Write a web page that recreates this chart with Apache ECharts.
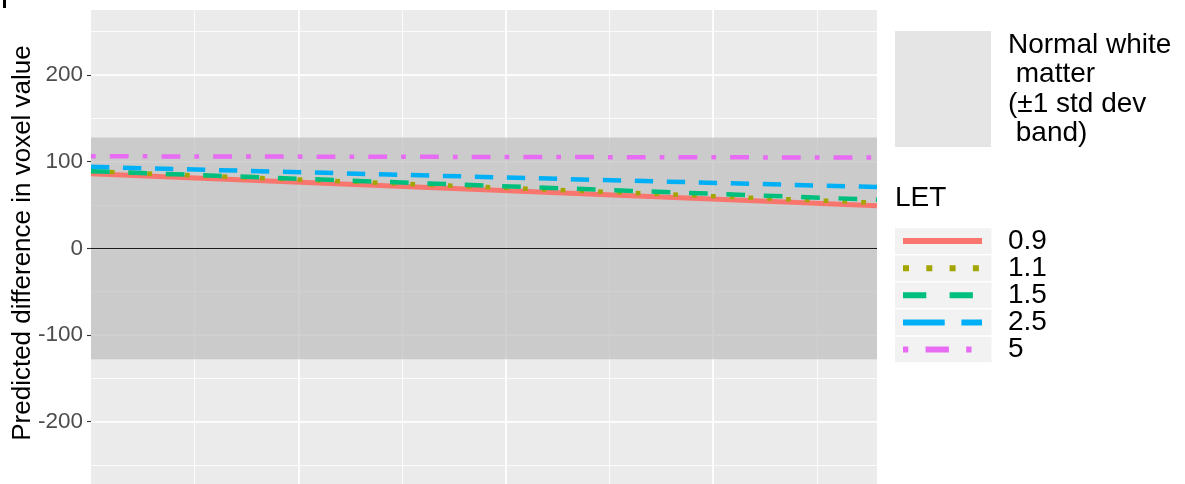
<!DOCTYPE html>
<html><head><meta charset="utf-8">
<script src="https://cdn.jsdelivr.net/npm/echarts@6/dist/echarts.min.js"></script>
<style>html,body{margin:0;padding:0;background:#fff}#chart{width:1185px;height:484px}</style>
</head><body><div id="chart"></div>
<script>
// ---- data ----
const xValues = [0, 75.8];
const letLevels = ['0.9', '1.1', '1.5', '2.5', '5'];
const let09 = [86, 49];
const let11 = [89, 52.5];
const let15 = [89, 56];
const let25 = [94, 70.7];
const let5 = [106.2, 104.7];
const bandLimits = [-128, 128];
const yTicks = [-200, -100, 0, 100, 200];
const bandLabel = ['Normal white', ' matter', '(\u00b11 std dev', ' band)'];
const legendTitle = 'LET';
const yTitle = 'Predicted difference in voxel value';

// ---- styles ----
const FONT = '"Liberation Sans", Arial, Helvetica, sans-serif';
const seriesValues = [let09, let11, let15, let25, let5];
const colors = ['#F8766D', '#A3A500', '#00BF7D', '#00B0F6', '#E76BF3'];
const plotDash = ['solid', [4.7, 14.1], [18.7, 18.7], [18.3, 13.7], [4.7, 14.1, 18.8, 14.1]];
const keyDash = ['solid', [6, 17.3], [23.3, 23.3], [41.7, 16.7], [5.3, 17.3, 23.3, 17.3]];
const plotWidths = [5, 4.5, 4.5, 4.5, 4.5];

const series = seriesValues.map((vals, i) => {
  const s = {
    name: letLevels[i],
    type: 'line',
    data: xValues.map((x, j) => [x, vals[j]]),
    symbol: 'none',
    showSymbol: false,
    silent: true,
    lineStyle: { color: colors[i], width: plotWidths[i], type: plotDash[i], cap: 'butt' }
  };
  if (i === 0) {
    s.markArea = {
      silent: true,
      itemStyle: { color: 'rgba(190,190,190,0.7)' },
      data: [[{ yAxis: bandLimits[0] }, { yAxis: bandLimits[1] }]]
    };
    s.markLine = {
      silent: true, symbol: 'none', label: { show: false },
      lineStyle: { color: '#1a1a1a', width: 1.1, type: 'solid' },
      data: [{ yAxis: 0 }]
    };
  }
  return s;
});

// ---- legend graphics ----
const graphics = [];
graphics.push({ type: 'rect', z: -10, silent: true, shape: { x: 91, y: 10, width: 786, height: 474 }, style: { fill: '#ebebeb' } });
graphics.push({ type: 'rect', z: 100, silent: true, shape: { x: 86, y: -20, width: 800, height: 30 }, style: { fill: '#ffffff' } });
graphics.push({ type: 'rect', z: 101, silent: true, shape: { x: 3, y: 0, width: 3, height: 8 }, style: { fill: '#000' } });
graphics.push({ type: 'text', silent: true, x: 23, y: 243, rotation: Math.PI / 2,
  style: { text: yTitle, font: '26px ' + FONT, fill: '#000', align: 'center', verticalAlign: 'middle' } });
graphics.push({ type: 'rect', silent: true, shape: { x: 895, y: 31, width: 96, height: 116 }, style: { fill: '#e5e5e5' } });
graphics.push({ type: 'text', silent: true, x: 1008, y: 89.5,
  style: { text: bandLabel.join('\n'), font: '28px ' + FONT, lineHeight: 29.5, fill: '#000', align: 'left', verticalAlign: 'middle' } });
graphics.push({ type: 'text', silent: true, x: 895, y: 198,
  style: { text: legendTitle, font: '28px ' + FONT, fill: '#000', align: 'left', verticalAlign: 'middle' } });
letLevels.forEach((lv, i) => {
  const top = 228.3 + 27.1 * i;
  const cy = top + 12.8;
  graphics.push({ type: 'rect', silent: true, shape: { x: 895, y: top, width: 96.5, height: 25.6 }, style: { fill: '#f2f2f2' } });
  graphics.push({ type: 'line', silent: true, shape: { x1: 903, y1: cy, x2: 982, y2: cy },
    style: { stroke: colors[i], lineWidth: 6, lineDash: keyDash[i] === 'solid' ? null : keyDash[i], lineCap: 'butt' } });
  graphics.push({ type: 'text', silent: true, x: 1008, y: cy,
    style: { text: lv, font: '28px ' + FONT, fill: '#000', align: 'left', verticalAlign: 'middle' } });
});

const chart = echarts.init(document.getElementById('chart'), null, { renderer: 'canvas' });
chart.setOption({
  animation: false,
  backgroundColor: '#ffffff',
  textStyle: { fontFamily: FONT },
  grid: { left: 91, right: 308, top: -11.65, bottom: -24.25, containLabel: false, outerBoundsMode: 'none' },
  xAxis: [
    { type: 'value', min: 0, max: 75.8, interval: 20,
      axisLine: { show: false }, axisTick: { show: false }, axisLabel: { show: false },
      splitLine: { show: true, showMinLine: false, showMaxLine: false, lineStyle: { color: '#ffffff', width: 1.6 } } },
    { type: 'value', min: 0, max: 75.8, interval: 10, position: 'top',
      axisLine: { show: false }, axisTick: { show: false }, axisLabel: { show: false },
      splitLine: { show: true, showMinLine: false, showMaxLine: false, lineStyle: { color: '#ffffff', width: 0.8 } } }
  ],
  yAxis: [
    { type: 'value', min: -300, max: 300, interval: 100,
      axisLine: { show: false },
      axisTick: { show: true, length: 4, lineStyle: { color: '#333333', width: 1.1 } },
      axisLabel: { show: true, margin: 8, color: '#4d4d4d', fontSize: 22.5, fontFamily: FONT,
        formatter: v => (yTicks.indexOf(v) >= 0 ? String(v) : '') },
      splitLine: { show: true, lineStyle: { color: '#ffffff', width: 1.6 } } },
    { type: 'value', min: -300, max: 300, interval: 50, position: 'right',
      axisLine: { show: false }, axisTick: { show: false }, axisLabel: { show: false },
      splitLine: { show: true, lineStyle: { color: '#ffffff', width: 0.8 } } }
  ],
  graphic: graphics,
  series: series
});
</script>
</body></html>
